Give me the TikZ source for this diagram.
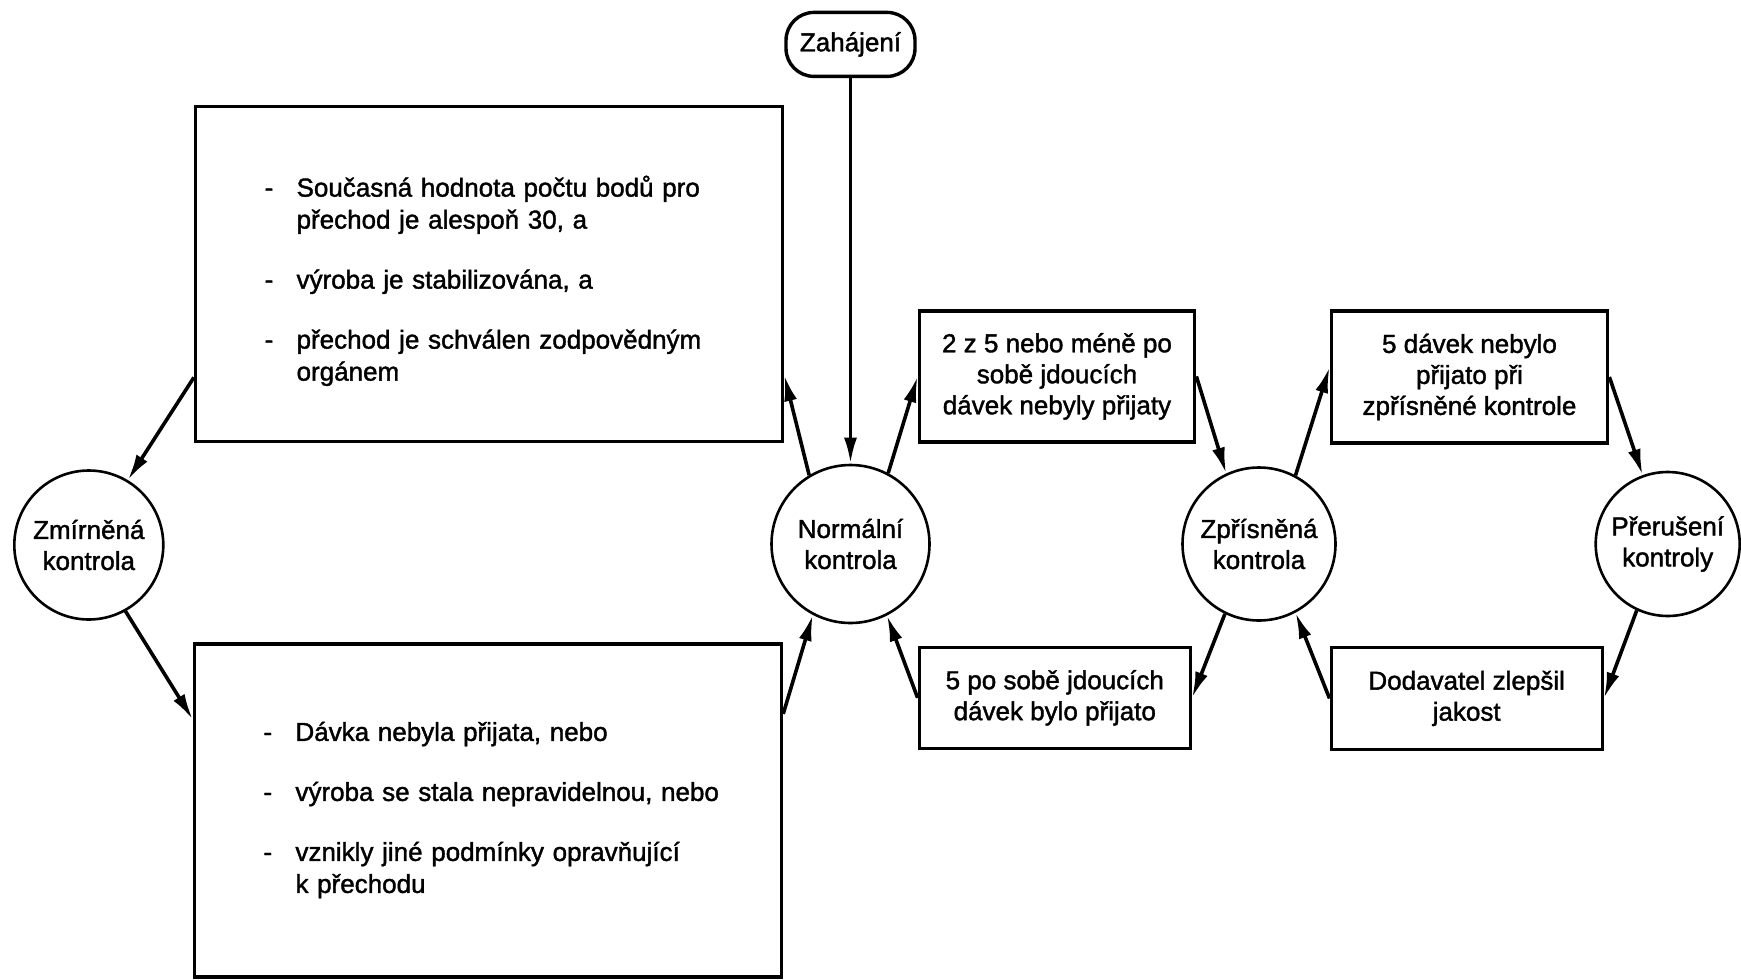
\documentclass[tikz,border=0pt]{standalone}
\usepackage{fontspec}
\setmainfont{Liberation Sans}[BoldFont=Liberation Sans,BoldFeatures={FakeBold=1.5}]
\usepackage{tikz}
\usetikzlibrary{arrows.meta,calc}

\begin{document}
\begin{tikzpicture}[x=0.5pt,y=-0.5pt,
  font=\fontsize{13}{15.5}\selectfont\bfseries,
  state/.style={circle,draw,line width=1.3pt,align=center,inner sep=0pt},
  cond/.style={rectangle,draw,line width=1.7pt,align=center,inner sep=0pt},
  bigcond/.style={rectangle,draw,line width=1.7pt,align=left,inner ysep=0pt,
    inner xsep=34.5pt,text width=224.5pt,font=\fontsize{13}{16}\selectfont\bfseries},
  flow/.style={-{Latex[length=13pt,width=6.5pt]},line width=1.8pt}]
  \useasboundingbox (0,0) rectangle (1741,980);
  \coordinate (S) at (850.5,44.4);
  \coordinate (Z) at (88.8,545);
  \coordinate (N) at (850.5,544);
  \coordinate (T) at (1259,544);
  \coordinate (P) at (1667.7,544);
  \node[cond,rounded corners=14pt,minimum width=64.5pt,minimum height=32pt] (zahajeni) at (S) {Zahájení};
  \node[state,minimum size=74.5pt] (zmirnena) at (Z) {Zmírněná\\kontrola};
  \node[state,minimum size=79pt] (normalni) at (N) {Normální\\kontrola};
  \node[state,minimum size=76.5pt] (zprisnena) at (T) {Zpřísněná\\kontrola};
  \node[state,minimum size=72pt] (preruseni) at (P) {Přerušení\\kontroly};
  \node[bigcond,minimum height=167.5pt] (toreduced) at (489.1,274.2) {%
    \begin{tabular}{@{}p{16pt}@{}l@{}}
      \noalign{\vskip 8pt}
      - & Současná hodnota počtu bodů pro\\
        & přechod je alespoň 30, a\\[14pt]
      - & výroba je stabilizována, a\\[14pt]
      - & přechod je schválen zodpovědným\\
        & orgánem
    \end{tabular}};
  \node[bigcond,minimum height=166.5pt] (tonormal) at (488,810.5) {%
    \begin{tabular}{@{}p{16pt}@{}l@{}}
      - & Dávka nebyla přijata, nebo\\[14pt]
      - & výroba se stala nepravidelnou, nebo\\[14pt]
      - & vznikly jiné podmínky opravňující\\
        & k přechodu
    \end{tabular}};
  \node[cond,minimum width=137.7pt,minimum height=65.5pt] (fewrej) at (1057,376.4) {2 z 5 nebo méně po\\sobě jdoucích\\dávek nebyly přijaty};
  \node[cond,minimum width=135.5pt,minimum height=50.5pt] (fiveacc) at (1054.8,697.8) {5 po sobě jdoucích\\dávek bylo přijato};
  \node[cond,minimum width=138.2pt,minimum height=66pt] (fiverej) at (1469.5,377) {5 dávek nebylo\\přijato při\\zpřísněné kontrole};
  \node[cond,minimum width=135.5pt,minimum height=51pt] (improved) at (1466.7,698.4) {Dodavatel zlepšil\\jakost};
  \draw[flow] (zahajeni) -- (normalni);
  \draw[flow] ([yshift=-51.6pt]toreduced.west) -- (zmirnena.59);
  \draw[flow] (zmirnena.-61) -- ([yshift=45.5pt]tonormal.west);
  \draw[flow] ([yshift=48.3pt]tonormal.east) -- (normalni.-118);
  \draw[flow] (normalni.121) -- ([yshift=-50.5pt]toreduced.east);
  \draw[flow] (normalni.62) -- (fewrej.west);
  \draw[flow] (fewrej.east) -- (zprisnena.115);
  \draw[flow] (zprisnena.-116) -- (fiveacc.east);
  \draw[flow] (fiveacc.west) -- (normalni.-63);
  \draw[flow] (zprisnena.62) -- ([yshift=5pt]fiverej.west);
  \draw[flow] (fiverej.east) -- (preruseni.110);
  \draw[flow] (preruseni.-115) -- (improved.east);
  \draw[flow] (improved.west) -- (zprisnena.-62);
\end{tikzpicture}
\end{document}
